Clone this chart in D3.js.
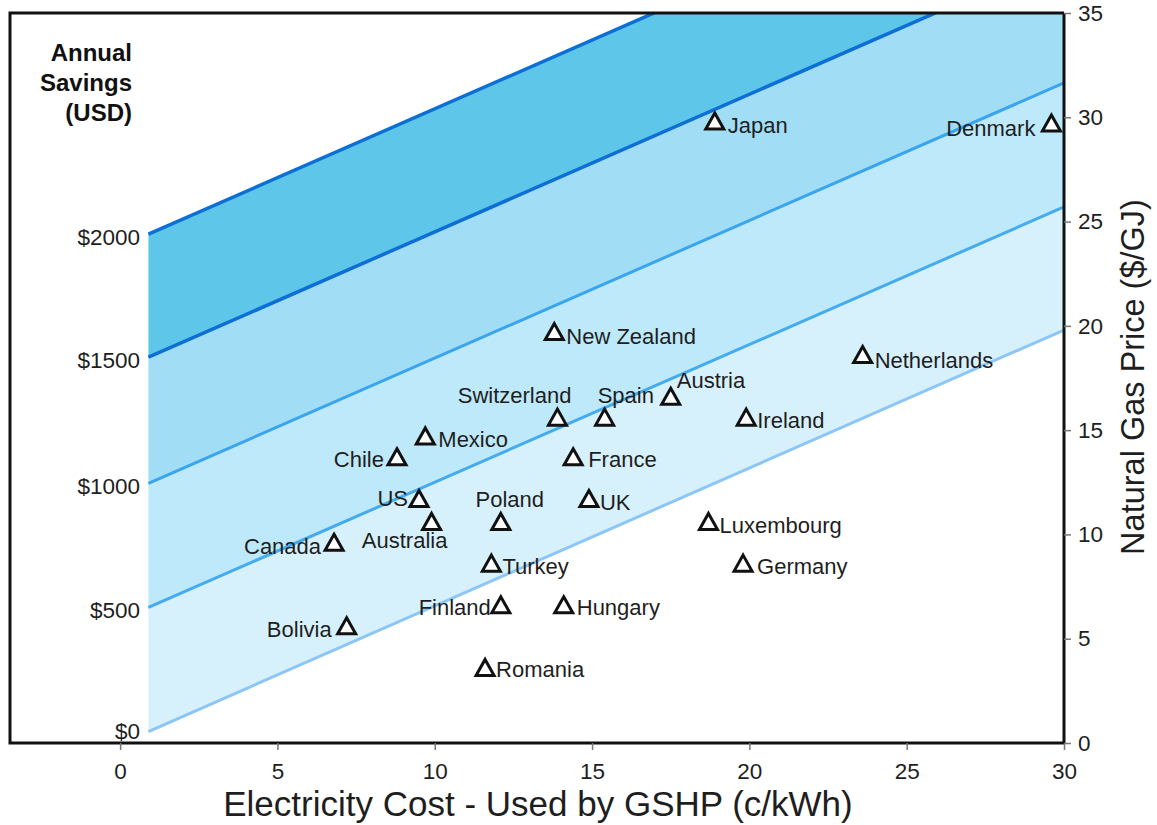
<!DOCTYPE html>
<html>
<head>
	<meta charset="utf-8">
	<title>GSHP savings</title>
	<script src="https://cdn.jsdelivr.net/npm/d3@7"></script>
	<style type="text/css">
		body {
			margin: 0;
			background: #ffffff;
		}
		svg text {
			font-family: "Liberation Sans", Arial, Helvetica, sans-serif;
			fill: #1e1e1e;
		}
	</style>
</head>
<body>
	<script type="text/javascript">
		// Countries (electricity cost c/kWh, natural gas price $/GJ)
		var countries = ["Japan", "Denmark", "New Zealand", "Netherlands", "Austria", "Switzerland",
			"Spain", "Ireland", "Mexico", "Chile", "France", "US", "UK", "Australia", "Poland",
			"Luxembourg", "Canada", "Turkey", "Germany", "Finland", "Hungary", "Bolivia", "Romania"];
		var elecCost = [18.9, 29.6, 13.8, 23.6, 17.5, 13.9, 15.4, 19.9, 9.7, 8.8, 14.4, 9.5, 14.9,
			9.9, 12.1, 18.7, 6.8, 11.8, 19.8, 12.1, 14.1, 7.2, 11.6];
		var gasPrice = [29.8, 29.7, 19.7, 18.6, 16.6, 15.6, 15.6, 15.6, 14.7, 13.7, 13.7, 11.7, 11.7,
			10.6, 10.6, 10.6, 9.6, 8.6, 8.6, 6.6, 6.6, 5.6, 3.6];

		// Annual savings contour lines (gas price at start and end electricity cost)
		var savingsLevels = [0, 500, 1000, 1500, 2000];
		var savingsLabels = ["$0", "$500", "$1000", "$1500", "$2000"];
		var lineElec = [0.9, 30];
		var lineStartGas = [0.55, 6.5, 12.45, 18.5, 24.4];
		var lineEndGas = [19.8, 25.7, 31.65, 37.7, 43.6];

		var xTicks = [0, 5, 10, 15, 20, 25, 30];
		var yTicks = [0, 5, 10, 15, 20, 25, 30, 35];

		// styles
		var bandColors = ["#d7f1fc", "#bde9fa", "#a1def5", "#5dc6e9"];
		var lineColors = ["#8cc6f6", "#45abf0", "#3aa5ee", "#0c6fd6", "#0c6fd6"];
		var lineWidths = [3, 3, 3, 3.5, 3.5];

		// label placement: anchor, dx, dy (px from triangle centre)
		var labelPos = {
			"Japan": ["start", 13, 12], "Denmark": ["end", -16, 12], "New Zealand": ["start", 12, 12],
			"Netherlands": ["start", 12, 13], "Austria": ["start", 6, -9], "Switzerland": ["end", 14, -15],
			"Spain": ["start", -7, -15], "Ireland": ["start", 11, 10], "Mexico": ["start", 13, 11],
			"Chile": ["end", -13, 10], "France": ["start", 15, 10], "US": ["end", -11, 7],
			"UK": ["start", 11, 11], "Australia": ["middle", -27, 26], "Poland": ["middle", 9, -15],
			"Luxembourg": ["start", 11, 11], "Canada": ["end", -13, 11], "Turkey": ["start", 11, 10],
			"Germany": ["start", 14, 10], "Finland": ["end", -10, 10], "Hungary": ["start", 13, 10],
			"Bolivia": ["end", -15, 11], "Romania": ["start", 11, 9]
		};

		var width = 1157;
		var height = 825;
		var pLeft = 10, pRight = 1064, pTop = 13, pBottom = 743;

		var svg = d3.select("body").append("svg")
			.attr("width", width)
			.attr("height", height);

		var xScale = d3.scaleLinear()
			.domain([-3.5, 30])
			.range([pLeft, pRight]);
		var yScale = d3.scaleLinear()
			.domain([0, 35])
			.range([pBottom, pTop]);

		svg.append("clipPath")
			.attr("id", "plotclip")
			.append("rect")
			.attr("x", pLeft)
			.attr("y", pTop)
			.attr("width", pRight - pLeft)
			.attr("height", pBottom - pTop);

		var plot = svg.append("g").attr("clip-path", "url(#plotclip)");

		// bands between savings lines
		var bands = d3.range(savingsLevels.length - 1);
		plot.selectAll("path.band")
			.data(bands)
			.enter()
			.append("path")
			.attr("class", "band")
			.attr("d", function(i) {
				var pts = [
					[lineElec[0], lineStartGas[i]], [lineElec[1], lineEndGas[i]],
					[lineElec[1], lineEndGas[i + 1]], [lineElec[0], lineStartGas[i + 1]]
				];
				return "M" + pts.map(function(p) { return xScale(p[0]) + "," + yScale(p[1]); }).join("L") + "Z";
			})
			.attr("fill", function(i) { return bandColors[i]; });

		// savings lines
		plot.selectAll("line.sav")
			.data(savingsLevels)
			.enter()
			.append("line")
			.attr("class", "sav")
			.attr("x1", xScale(lineElec[0]))
			.attr("y1", function(d, i) { return yScale(lineStartGas[i]); })
			.attr("x2", xScale(lineElec[1]))
			.attr("y2", function(d, i) { return yScale(lineEndGas[i]); })
			.attr("stroke", function(d, i) { return lineColors[i]; })
			.attr("stroke-width", function(d, i) { return lineWidths[i]; });

		// savings labels on the left
		svg.selectAll("text.sav")
			.data(savingsLabels)
			.enter()
			.append("text")
			.attr("class", "sav")
			.attr("x", 140)
			.attr("y", function(d, i) { return yScale(lineStartGas[i]) + (i == 0 ? 0 : 3); })
			.attr("dy", "0.35em")
			.attr("text-anchor", "end")
			.style("font-size", "22.5px")
			.text(function(d) { return d; });

		var title = svg.append("text")
			.attr("text-anchor", "end")
			.style("font-size", "24px")
			.style("font-weight", "bold")
			.style("fill", "#111");
		["Annual", "Savings", "(USD)"].forEach(function(t, i) {
			title.append("tspan").attr("x", 132).attr("y", 61 + i * 30).text(t);
		});

		// frame
		svg.append("path")
			.attr("d", "M" + pRight + "," + pTop + "H" + pLeft + "V" + pBottom + "H" + pRight)
			.attr("fill", "none")
			.attr("stroke", "#111")
			.attr("stroke-width", 3);

		// axes
		var xAxis = svg.append("g")
			.attr("transform", "translate(0," + pBottom + ")")
			.call(d3.axisBottom(xScale).tickValues(xTicks).tickSize(7).tickPadding(13));
		xAxis.select(".domain").remove();

		var yAxis = svg.append("g")
			.attr("transform", "translate(" + pRight + ",0)")
			.call(d3.axisRight(yScale).tickValues(yTicks).tickSize(7).tickPadding(7));
		yAxis.select(".domain")
			.attr("d", "M0," + pTop + "V" + pBottom)
			.attr("stroke", "#111")
			.attr("stroke-width", 3);

		svg.selectAll(".tick line").attr("stroke", "#777").attr("stroke-width", 1.5);
		svg.selectAll(".tick text")
			.style("font-size", "22.5px")
			.style("font-family", "'Liberation Sans', Arial, sans-serif")
			.attr("fill", "#1e1e1e");

		svg.append("text")
			.attr("x", 538)
			.attr("y", 816)
			.attr("text-anchor", "middle")
			.style("font-size", "35px")
			.text("Electricity Cost - Used by GSHP (c/kWh)");

		svg.append("text")
			.attr("transform", "translate(1144,377) rotate(-90)")
			.attr("text-anchor", "middle")
			.style("font-size", "32.5px")
			.text("Natural Gas Price ($/GJ)");

		// country markers
		var pts = svg.selectAll("g.pt")
			.data(countries)
			.enter()
			.append("g")
			.attr("class", "pt")
			.attr("transform", function(d, i) {
				return "translate(" + xScale(elecCost[i]) + "," + yScale(gasPrice[i]) + ")";
			});

		pts.append("path")
			.attr("d", "M0,-8.5L9,7.5L-9,7.5Z")
			.attr("fill", "#ffffff")
			.attr("stroke", "#111")
			.attr("stroke-width", 3)
			.attr("stroke-linejoin", "miter");

		pts.append("text")
			.attr("x", function(d) { return labelPos[d][1]; })
			.attr("y", function(d) { return labelPos[d][2]; })
			.attr("text-anchor", function(d) { return labelPos[d][0]; })
			.style("font-size", "22px")
			.text(function(d) { return d; });
	</script>
</body>
</html>
